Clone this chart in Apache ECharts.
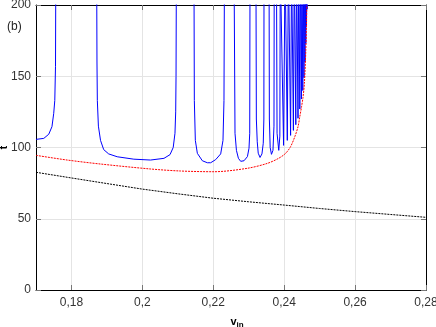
<!DOCTYPE html>
<html>
<head>
<meta charset="utf-8">
<script src="https://cdn.jsdelivr.net/npm/echarts@6/dist/echarts.min.js"></script>
<style>
  html, body { margin: 0; padding: 0; background: #fff; }
  #main { width: 436px; height: 327px; }
</style>
</head>
<body>
<div id="main"></div>
<script>
// x tick positions (v_in) and y range
var xTicks = [0.18, 0.2, 0.22, 0.24, 0.26, 0.28];

// blue curve: resonance branches, 230 = beyond the top of the plot
var blueV = [
  0.1700, 0.1722, 0.1736, 0.1745, 0.1750, 0.1753, 0.1755, 0.1756,
  0.1871, 0.1872, 0.1873, 0.1876, 0.1882, 0.1891, 0.1905, 0.1929, 0.1976, 0.2023, 0.2061, 0.2078, 0.2087, 0.2092, 0.2094, 0.2095, 0.2096,
  0.21455, 0.21466, 0.21494, 0.21551, 0.21692, 0.21833, 0.21927, 0.22068, 0.22209, 0.22274, 0.22302, 0.22316,
  0.22585, 0.22613, 0.22653, 0.22709, 0.22774, 0.22867, 0.22963, 0.23008, 0.23028, 0.23037,
  0.23203, 0.23215, 0.2324, 0.23268, 0.23319, 0.23373, 0.2341, 0.23427, 0.23432,
  0.23573, 0.23582, 0.23605, 0.23641, 0.23684, 0.23712, 0.2372,
  0.23782, 0.23799, 0.23847, 0.23878, 0.2389,
  0.23938, 0.23983, 0.24025,
  0.24054, 0.24088, 0.24119,
  0.24147, 0.24181, 0.24209,
  0.24232, 0.2426, 0.24285,
  0.24305, 0.24328, 0.2435,
  0.24367, 0.2439, 0.2441,
  0.24424, 0.24441, 0.24458,
  0.24472, 0.24486, 0.245,
  0.24511, 0.24525, 0.24537,
  0.24548, 0.24559, 0.24571,
  0.24579, 0.24588, 0.24596,
  0.24605, 0.2461, 0.24619,
  0.24624, 0.2463, 0.24636,
  0.24641, 0.24647, 0.24653
];
var blueT = [
  105.7, 106.4, 109.3, 114.6, 124, 133, 157, 230,
  230, 160, 133, 115, 105, 98.5, 95.5, 93.5, 91.8, 91.2, 92.4, 95, 100, 110, 125, 150, 230,
  230, 133, 105, 95.9, 90.7, 89.3, 89.3, 91.5, 95.5, 105, 133, 230,
  230, 110, 98, 92.4, 90.3, 90.7, 93.6, 99.5, 110, 230,
  230, 120, 104, 96, 93, 95.5, 103, 120, 230,
  230, 120, 100, 95.2, 98, 115, 230,
  230, 110, 98, 108, 230,
  230, 101.5, 230,
  230, 105, 230,
  230, 108.5, 230,
  230, 112, 230,
  230, 116, 230,
  230, 120.5, 230,
  230, 127, 230,
  230, 134, 230,
  230, 140, 230,
  230, 149, 230,
  230, 160, 230,
  230, 173, 230,
  230, 185, 230,
  230, 197, 230
];

// red dashed curve
var redV = [0.1700, 0.1788, 0.1882, 0.2024, 0.2108, 0.2202, 0.2296, 0.2353, 0.2385, 0.2404, 0.2418, 0.2430, 0.2439, 0.2444, 0.2449, 0.2453, 0.2457, 0.2461, 0.2464];
var redT = [94.5, 91.2, 88.4, 84.9, 83.5, 83.0, 85.4, 88.9, 92.5, 95.9, 100.6, 107.6, 114.6, 121.6, 128.6, 135, 145, 168, 200];

// black dotted curve
var blackV = [0.17, 0.1788, 0.1882, 0.2, 0.21, 0.22, 0.23, 0.24, 0.25, 0.26, 0.27, 0.28];
var blackT = [82.6, 79.1, 75.4, 70.8, 67.5, 64.4, 61.9, 59.6, 57.2, 55, 53, 51];

function pairs(xs, ys) {
  return xs.map(function (x, i) { return [x, ys[i]]; });
}

var chart = echarts.init(document.getElementById('main'));
var font = 'Liberation Sans, Arial, sans-serif';
var tickStyle = { color: '#777', width: 1 };

var option = {
  animation: false,
  grid: { left: 36, right: 10, top: 5, bottom: 37, show: false, containLabel: false, outerBoundsMode: 'none' },
  xAxis: [{
    type: 'value', min: 0.17, max: 0.28,
    name: '{v|v}{s|in}', nameLocation: 'middle', nameGap: 25, nameMoveOverlap: false,
    nameTextStyle: {
      padding: [0, 0, 0, 12],
      rich: {
        v: { fontFamily: font, fontSize: 11, fontWeight: 'bold', color: '#000' },
        s: { fontFamily: font, fontSize: 8, fontWeight: 'bold', color: '#000', padding: [6, 0, 0, 0] }
      }
    },
    axisLine: { show: true, onZero: false, lineStyle: { color: '#000', width: 1 } },
    axisTick: { show: true, inside: true, length: 5, lineStyle: tickStyle, customValues: xTicks },
    axisLabel: {
      fontFamily: font, fontSize: 12, color: '#333', margin: 7, customValues: xTicks,
      formatter: function (v) { return String(Math.round(v * 100) / 100).replace('.', ','); }
    },
    splitLine: { show: true, lineStyle: { color: '#e4e4e4', width: 1 } }
  }, {
    type: 'value', min: 0.17, max: 0.28, position: 'top',
    axisLine: { show: true, onZero: false, lineStyle: { color: '#000', width: 1 } },
    axisTick: { show: true, inside: true, length: 5, lineStyle: tickStyle, customValues: xTicks },
    axisLabel: { show: false },
    splitLine: { show: false }
  }],
  yAxis: [{
    type: 'value', min: 0, max: 200, interval: 50,
    name: 't', nameLocation: 'middle', nameGap: 27, nameRotate: 90, nameMoveOverlap: false,
    nameTextStyle: { fontFamily: font, fontSize: 10, fontWeight: 'bold', color: '#000' },
    axisLine: { show: true, onZero: false, lineStyle: { color: '#000', width: 1 } },
    axisTick: { show: true, inside: true, length: 5, lineStyle: tickStyle },
    axisLabel: { fontFamily: font, fontSize: 12, color: '#333', margin: 5 },
    splitLine: { show: true, lineStyle: { color: '#e4e4e4', width: 1 } }
  }, {
    type: 'value', min: 0, max: 200, interval: 50, position: 'right',
    axisLine: { show: true, onZero: false, lineStyle: { color: '#000', width: 1 } },
    axisTick: { show: true, inside: true, length: 5, lineStyle: tickStyle },
    axisLabel: { show: false },
    splitLine: { show: false }
  }],
  graphic: [{
    type: 'text', left: 7, top: 21,
    style: { text: '(b)', font: '12px ' + font, fill: '#222' }
  }],
  series: [{
    type: 'line', data: pairs(blackV, blackT), showSymbol: false, symbol: 'none', clip: true,
    lineStyle: { color: '#000', width: 1, type: [2, 1] }
  }, {
    type: 'line', data: pairs(blueV, blueT), showSymbol: false, symbol: 'none', clip: true,
    lineStyle: { color: '#0000ff', width: 1 }
  }, {
    type: 'line', data: pairs(redV, redT), showSymbol: false, symbol: 'none', clip: true, smooth: 0.3,
    lineStyle: { color: '#ff0000', width: 1, type: [2, 1] }
  }]
};
chart.setOption(option);
</script>
</body>
</html>
